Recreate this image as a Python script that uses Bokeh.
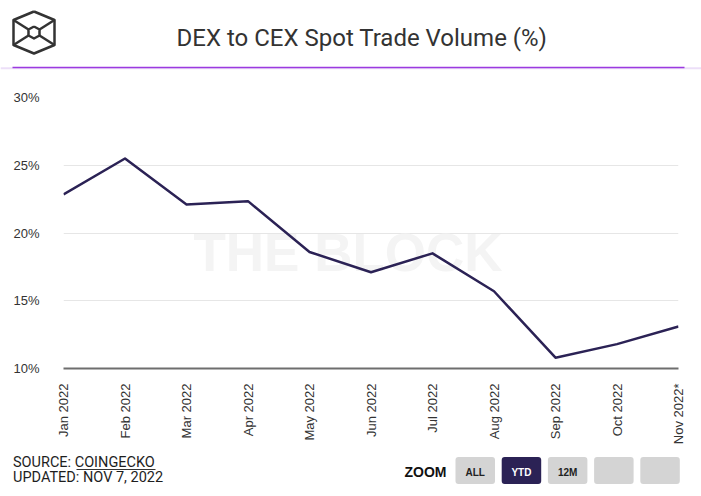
import math

from bokeh.core.properties import value
from bokeh.embed import file_html
from bokeh.layouts import column
from bokeh.models import BoxAnnotation, FixedTicker, Label, PrintfTickFormatter, Range1d
from bokeh.plotting import figure
from bokeh.resources import INLINE

# data
months = ["Jan 2022", "Feb 2022", "Mar 2022", "Apr 2022", "May 2022", "Jun 2022",
          "Jul 2022", "Aug 2022", "Sep 2022", "Oct 2022", "Nov 2022*"]
dex_cex_pct = [22.85, 25.5, 22.1, 22.35, 18.6, 17.1, 18.5, 15.7, 10.8, 11.8, 13.1]
y_ticks = [10, 15, 20, 25, 30]
zoom_buttons = ["ALL", "YTD", "12M", "", ""]

W = 701
INK = "#333333"
LINE = "#2b2255"


def blank(y0, y1):
    # strip figure whose data units are page pixels (y negated)
    f = figure(width=W, height=y1 - y0, x_range=Range1d(0, W), y_range=Range1d(-y1, -y0),
               output_backend="svg", toolbar_location=None, min_border=0,
               x_axis_type=None, y_axis_type=None, frame_align=False)
    f.grid.visible = False
    f.outline_line_color = None
    return f


# ---- header: logo, title, rule
head = blank(0, 76)
outer = [(33.5, 11), (54, 19.5), (54, 44.5), (33.5, 53), (13, 44.5), (13, 19.5), (33.5, 11)]
inner = [(33.5, 26), (39, 29), (39, 35), (33.5, 38), (28, 35), (28, 29), (33.5, 26)]
for poly in (outer, inner):
    head.line([a for a, b in poly], [-b for a, b in poly], line_color=INK, line_width=2.5,
              line_join="round")
head.multi_line([[13, 28], [54, 39], [13, 28], [54, 39]],
                [[-19.5, -29], [-19.5, -29], [-44.5, -35], [-44.5, -35]],
                line_color=INK, line_width=2.5)
head.text(x=[361.5], y=[-37], text=["DEX to CEX Spot Trade Volume (%)"],
          text_font=value("Roboto"), text_font_size="24px", text_color=INK,
          text_align="center", text_baseline="middle")
head.line([0, W], [-67.8, -67.8], line_color="#ecdff8", line_width=2)
head.line([12, 684], [-67, -67], line_color="#9b3ae0", line_width=1.5)

# ---- main chart
xs = list(range(len(months)))
p = figure(width=W, height=374, x_range=Range1d(0, len(months) - 1), y_range=Range1d(10, 30),
           output_backend="svg", toolbar_location=None, frame_align=False,
           min_border_left=63, min_border_right=23, min_border_top=21, min_border_bottom=82)
p.outline_line_color = None
p.xgrid.visible = False
p.ygrid.grid_line_color = "#e6e6e6"
p.ygrid.ticker = FixedTicker(ticks=y_ticks)

p.add_layout(Label(x=284.5, y=116, x_units="screen", y_units="screen", text="THE BLOCK",
                   text_font="Liberation Sans", text_font_style="bold",
                   text_font_size="53px", text_color="#f4f4f4",
                   text_align="center", text_baseline="middle", level="underlay"))

p.line(xs, dex_cex_pct, line_color=LINE, line_width=2.5, line_join="round")

p.yaxis.ticker = FixedTicker(ticks=y_ticks)
p.yaxis.formatter = PrintfTickFormatter(format="%d%%")
p.yaxis.axis_line_color = None
p.yaxis.major_tick_line_color = None
p.yaxis.minor_tick_line_color = None
p.yaxis.major_label_standoff = 18
p.yaxis.major_label_text_font = "Liberation Sans"
p.yaxis.major_label_text_font_size = "13px"
p.yaxis.major_label_text_color = INK

p.xaxis.ticker = FixedTicker(ticks=xs)
p.xaxis.major_label_overrides = {i: m for i, m in enumerate(months)}
p.xaxis.major_label_orientation = math.pi / 2
p.xaxis.axis_line_color = "#6e6e6e"
p.xaxis.axis_line_width = 2
p.xaxis.major_tick_line_color = None
p.xaxis.minor_tick_line_color = None
p.xaxis.major_label_standoff = 9
p.xaxis.major_label_text_font = "Liberation Sans"
p.xaxis.major_label_text_font_size = "13px"
p.xaxis.major_label_text_color = INK

# ---- footer: source + zoom buttons
foot = blank(450, 496)
foot.text(x=[12.5, 12.5], y=[-462, -476.5], text=["SOURCE: COINGECKO", "UPDATED: NOV 7, 2022"],
          text_font=value("Roboto"), text_font_size="14.5px", text_color="#1e1e1e",
          text_align="left", text_baseline="middle")
foot.line([76, 155], [-469, -469], line_color=INK, line_width=1)
foot.text(x=[404], y=[-471.5], text=["ZOOM"], text_font=value("Liberation Sans"),
          text_font_style="bold", text_font_size="14px", text_color="#111111",
          text_align="left", text_baseline="middle")
for i, lab in enumerate(zoom_buttons):
    left = 455 + i * 46.2
    on = lab == "YTD"
    foot.add_layout(BoxAnnotation(left=left, right=left + 39.5, bottom=-483.5, top=-456.5,
                                  fill_color=LINE if on else "#d4d4d4", fill_alpha=1,
                                  line_color=None, border_radius=3, level="underlay"))
    if lab:
        foot.text(x=[left + 19.75], y=[-471.5], text=[lab], text_font=value("Liberation Sans"),
                  text_font_style="bold", text_font_size="10px",
                  text_color="white" if on else "#222222",
                  text_align="center", text_baseline="middle")

layout = column(head, p, foot)
open("out.html", "w").write(file_html(layout, INLINE))
